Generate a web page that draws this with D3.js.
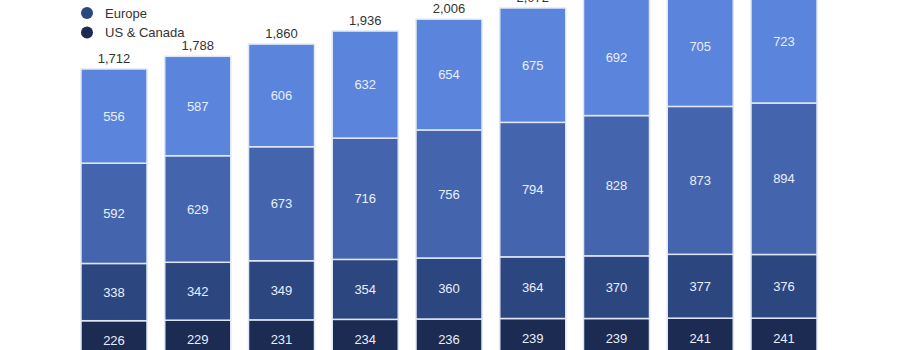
<!DOCTYPE html>
<html>
<head>
<meta charset="utf-8">
<script src="https://cdn.jsdelivr.net/npm/d3@7"></script>
<style>
  html, body { margin: 0; padding: 0; background: #fff; }
  svg { display: block; font-family: "Liberation Sans", Arial, Helvetica, sans-serif; }
</style>
</head>
<body>
<svg id="chart" width="900" height="350"></svg>
<script>
// Monthly active users by region (millions), stacked per quarter
const quarters = ["Q2'16", "Q3'16", "Q4'16", "Q1'17", "Q2'17", "Q3'17", "Q4'17", "Q1'18", "Q2'18"];
const usCanada   = [226, 229, 231, 234, 236, 239, 239, 241, 241];
const europe     = [338, 342, 349, 354, 360, 364, 370, 377, 376];
const asiaPac    = [592, 629, 673, 716, 756, 794, 828, 873, 894];
const restOfWorld = [556, 587, 606, 632, 654, 675, 692, 705, 723];
const totals     = [1712, 1788, 1860, 1936, 2006, 2072, 2129, 2196, 2234];

const seriesNames = ["US & Canada", "Europe", "Asia-Pacific", "Rest of World"];
const seriesValues = [usCanada, europe, asiaPac, restOfWorld];
const colors = ["#1b2b52", "#2c4680", "#4465ad", "#5b85dc"];

const rows = quarters.map((q, i) => {
  const r = { quarter: q };
  seriesNames.forEach((s, j) => { r[s] = seriesValues[j][i]; });
  return r;
});

const svg = d3.select("#chart");

const x = d3.scaleBand()
  .domain(quarters)
  .range([81, 817])
  .paddingInner(0.212)
  .paddingOuter(0);

const y = d3.scaleLinear()
  .domain([0, 2000])
  .range([359, 359 - 2000 * 0.1694]);

const stack = d3.stack().keys(seriesNames);
const layers = stack(rows);

const g = svg.append("g");

const layerG = g.selectAll("g.layer")
  .data(layers)
  .join("g")
  .attr("class", "layer")
  .attr("fill", (d, i) => colors[i]);

layerG.selectAll("rect")
  .data(d => d)
  .join("rect")
  .attr("x", d => x(d.data.quarter))
  .attr("width", x.bandwidth())
  .attr("y", d => y(d[1]))
  .attr("height", d => y(d[0]) - y(d[1]))
  .attr("stroke", "#dfe7f6")
  .attr("stroke-width", 1.5);

layerG.selectAll("text")
  .data(d => d)
  .join("text")
  .attr("x", d => x(d.data.quarter) + x.bandwidth() / 2)
  .attr("y", d => (y(d[0]) + y(d[1])) / 2)
  .attr("dy", "0.36em")
  .attr("text-anchor", "middle")
  .attr("fill", "#e8eefa")
  .attr("font-size", 13)
  .text(d => d3.format(",")(d[1] - d[0]));

// Totals above each bar
g.selectAll("text.total")
  .data(quarters)
  .join("text")
  .attr("class", "total")
  .attr("x", q => x(q) + x.bandwidth() / 2)
  .attr("y", (q, i) => y(totals[i]) - 6)
  .attr("text-anchor", "middle")
  .attr("fill", "#333")
  .attr("font-size", 13)
  .text((q, i) => d3.format(",")(totals[i]));

// Legend, listed top to bottom from the outermost layer
const legendOrder = seriesNames.slice().reverse();
const legend = svg.append("g").attr("transform", "translate(87, 0)");
const li = legend.selectAll("g")
  .data(legendOrder)
  .join("g")
  .attr("transform", (d, i) => `translate(0, ${-26 + i * 19.5})`);
li.append("circle")
  .attr("r", 6)
  .attr("fill", d => colors[seriesNames.indexOf(d)]);
li.append("text")
  .attr("x", 18)
  .attr("dy", "0.36em")
  .attr("fill", "#333")
  .attr("font-size", 13)
  .text(d => d);
</script>
</body>
</html>
